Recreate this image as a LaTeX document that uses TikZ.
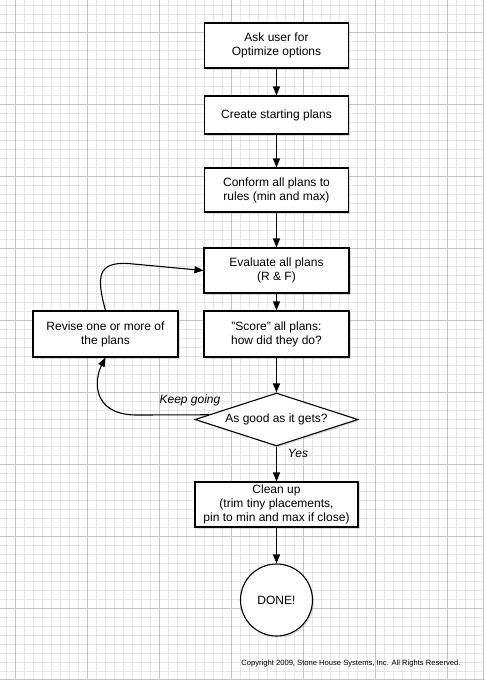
\documentclass[tikz,border=0pt]{standalone}
\usepackage{fontspec}
\setmainfont{Liberation Sans}
\usetikzlibrary{arrows.meta,shapes.geometric,shadows}
\definecolor{minorgrid}{HTML}{E6E6E6}
\definecolor{majorgrid}{HTML}{C4C4C4}
\tikzset{
  box/.style={draw,line width=1.1pt,fill=white,align=center,inner sep=0pt,
    font=\fontsize{12}{14}\selectfont,
    drop shadow={shadow xshift=1.5pt,shadow yshift=-1.5pt,opacity=0.25}},
  dec/.style={draw,line width=1.1pt,fill=white,diamond,aspect=3.1,inner sep=0pt,
    minimum width=163pt,minimum height=53pt,
    font=\fontsize{12}{14}\selectfont,
    drop shadow={shadow xshift=1.5pt,shadow yshift=-1.5pt,opacity=0.25}},
  term/.style={draw,line width=1.1pt,fill=white,circle,minimum size=72pt,inner sep=0pt,
    font=\fontsize{12}{14}\selectfont,
    drop shadow={shadow xshift=1.5pt,shadow yshift=-1.5pt,opacity=0.25}},
  flow/.style={line width=1.1pt,-{Triangle[length=9pt,width=7pt]}},
  lbl/.style={font=\fontsize{12}{14}\selectfont\itshape}
}
\begin{document}
\begin{tikzpicture}[x=1pt,y=-1pt]
\useasboundingbox (0,0) rectangle (485,681);
% grid
\foreach \x in {6,15,...,483} \draw[minorgrid,line width=0.8pt] (\x,0) -- (\x,679);
\foreach \y in {5,14,...,679} \draw[minorgrid,line width=0.8pt] (0,\y) -- (483,\y);
\foreach \x in {15,87,...,483} \draw[majorgrid,line width=0.9pt] (\x,0) -- (\x,679);
\foreach \y in {32,104,...,679} \draw[majorgrid,line width=0.9pt] (0,\y) -- (483,\y);
\draw[majorgrid,line width=1pt] (0,679.5) -- (485,679.5);
\draw[majorgrid,line width=1pt] (483.5,0) -- (483.5,679.5);

% nodes
\node[box,minimum width=144pt,minimum height=45pt] (ask) at (276.5,45.5) {Ask user for\\Optimize options};
\node[box,minimum width=144pt,minimum height=38pt] (create) at (276.5,115) {Create starting plans};
\node[box,minimum width=144pt,minimum height=44pt] (conform) at (276.5,190) {Conform all plans to\\rules (min and max)};
\node[box,minimum width=145pt,minimum height=45pt] (eval) at (276.5,270.5) {Evaluate all plans\\(R \& F)};
\node[box,minimum width=145pt,minimum height=46pt] (score) at (276.5,334) {\symbol{34}Score\symbol{34} all plans:\\how did they do?};
\node[box,minimum width=145pt,minimum height=46pt] (rev) at (105.5,334) {Revise one or more of\\the plans};
\node[dec] (dia) at (276.5,419.5) {As good as it gets?};
\node[box,minimum width=163pt,minimum height=45pt] (clean) at (276.5,504.5) {Clean up\\(trim tiny placements,\\pin to min and max if close)};
\node[term] (done) at (276.5,600) {DONE!};

% connectors
\draw[flow] (ask) -- (create);
\draw[flow] (create) -- (conform);
\draw[flow] (conform) -- (eval);
\draw[flow] (eval) -- (score);
\draw[flow] (score) -- (dia);
\draw[flow] (dia) -- (clean);
\draw[flow] (clean) -- (done);
\draw[flow] (dia.176) -- (135,415) .. controls (92,414) and (94,380) .. (rev.south);
\draw[flow] (rev.north) .. controls (96,276) and (98,262) .. (128,263.5) -- (eval.west);

% labels
\node[lbl] (kg) at (190,400) {Keep going};
\node[lbl] (yes) at (298,453) {Yes};
\node[font=\fontsize{7.6}{9}\selectfont] (copy) at (351,664) {Copyright 2009, Stone House Systems, Inc. All Rights Reserved.};
\end{tikzpicture}
\end{document}
